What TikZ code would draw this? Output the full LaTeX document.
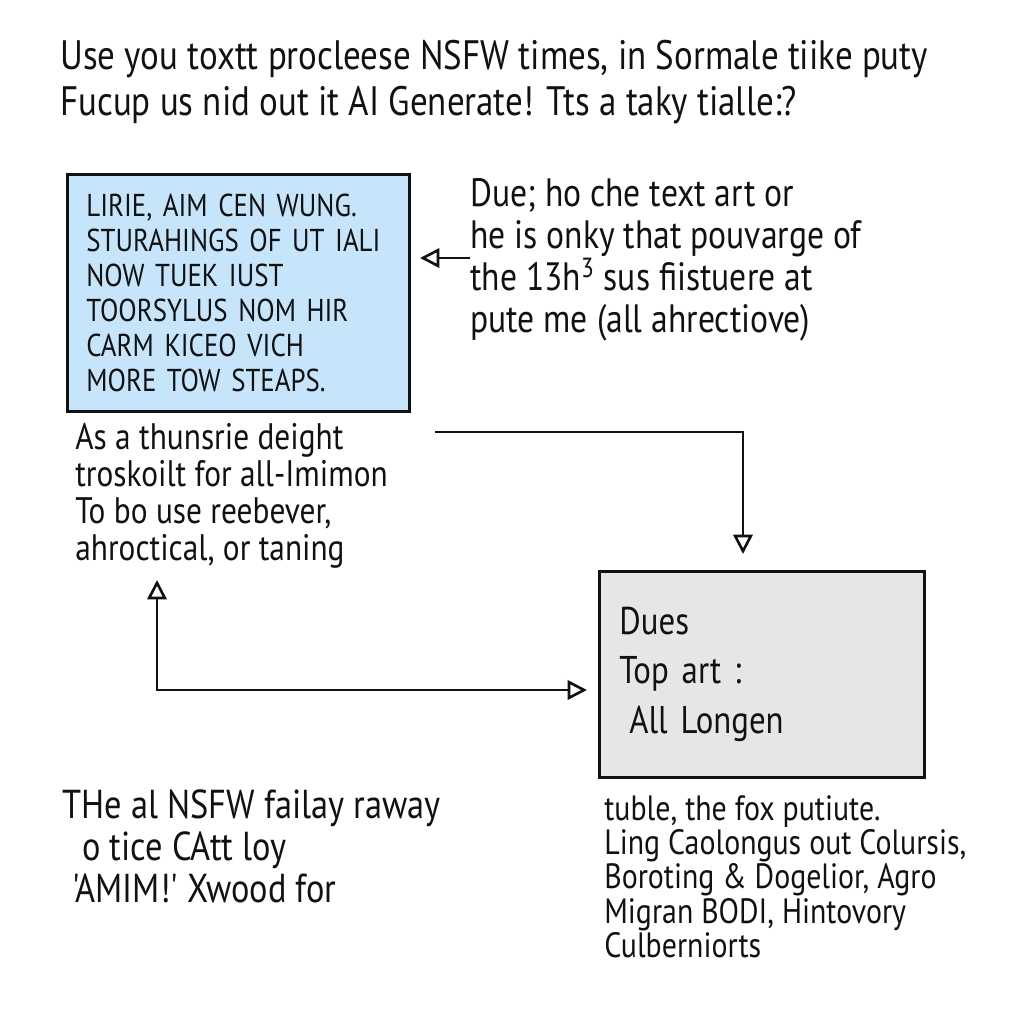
\documentclass[tikz,border=0pt]{standalone}
\usepackage{fontspec}
\newfontfamily\hand[FakeStretch=0.85]{PT Sans}
\usetikzlibrary{arrows.meta,positioning}
\definecolor{ink}{HTML}{111111}
\definecolor{paleblue}{HTML}{C6E5FA}
\definecolor{palegrey}{HTML}{E6E6E6}

\begin{document}
\begin{tikzpicture}[x=0.02cm,y=-0.02cm,every node/.style={font=\hand,text=ink},
  txt/.style={anchor=north west,align=left,inner sep=0pt},
  panel/.style={draw=ink,line width=1.6pt,anchor=north west,align=left,inner ysep=0pt},
  link/.style={ink,line width=1.5pt,-{Triangle[open,length=11pt,width=11pt]}},
  twoway/.style={ink,line width=1.5pt,{Triangle[open,length=11pt,width=11pt]}-{Triangle[open,length=11pt,width=11pt]}}]
\useasboundingbox (0,0) rectangle (1024,1024);
% heading
\node[txt,font=\hand\fontsize{23.4}{26}\selectfont] (title) at (60,40)
  {Use you toxtt procleese NSFW times, in Sormale tiike puty\\
   Fucup us nid out it AI Generate! Tts a taky tialle:?};
% the two panels
\node[panel,fill=paleblue,minimum width=6.84cm,minimum height=4.74cm,inner xsep=0.38cm,
  text width=6.08cm,font=\hand\fontsize{18}{20}\selectfont] (bluebox) at (66,173)
  {LIRIE, AIM CEN WUNG.\\ STURAHINGS OF UT IALI\\ NOW TUEK IUST\\
   TOORSYLUS NOM HIR\\ CARM KICEO VICH\\ MORE TOW STEAPS.};
\node[panel,fill=palegrey,minimum width=6.5cm,minimum height=4.12cm,inner xsep=0.4cm,
  text width=5.7cm,font=\hand\fontsize{22}{28}\selectfont] (greybox) at (598,570)
  {Dues\\ Top art :\\ \hspace{0.2cm}All Longen};
% notes
\node[txt,font=\hand\fontsize{22.5}{24}\selectfont] (note) at (470,178)
  {Due; ho che text art or\\ he is onky that pouvarge of\\
   the 13h\textsuperscript{3} sus fiistuere at\\ pute me (all ahrectiove)};
\node[txt,font=\hand\fontsize{21}{21}\selectfont] (below) at (75,423)
  {As a thunsrie deight\\ troskoilt for all-Imimon\\ To bo use reebever,\\ ahroctical, or taning};
\node[txt,font=\hand\fontsize{23}{24}\selectfont] (leftfoot) at (62,789)
  {THe al NSFW failay raway\\ \hspace{0.4cm}o tice CAtt loy\\ \hspace{0.2cm}'AMIM!' Xwood for};
\node[txt,font=\hand\fontsize{20}{19.5}\selectfont] (rightfoot) at (604,795)
  {tuble, the fox putiute.\\ Ling Caolongus out Colursis,\\ Boroting \& Dogelior, Agro\\
   Migran BODI, Hintovory\\ Culberniorts};
% connectors
\coordinate (ptr) at (420,258);
\coordinate (runstart) at (435,432);
\coordinate (rundown) at (743,554);
\coordinate (uptip) at (157,580);
\coordinate (righttip) at (587,690);
\draw[link] (note.west |- ptr) -- (ptr);
\draw[link] (runstart) -| (rundown);
\draw[twoway] (uptip) |- (righttip);
\end{tikzpicture}
\end{document}
